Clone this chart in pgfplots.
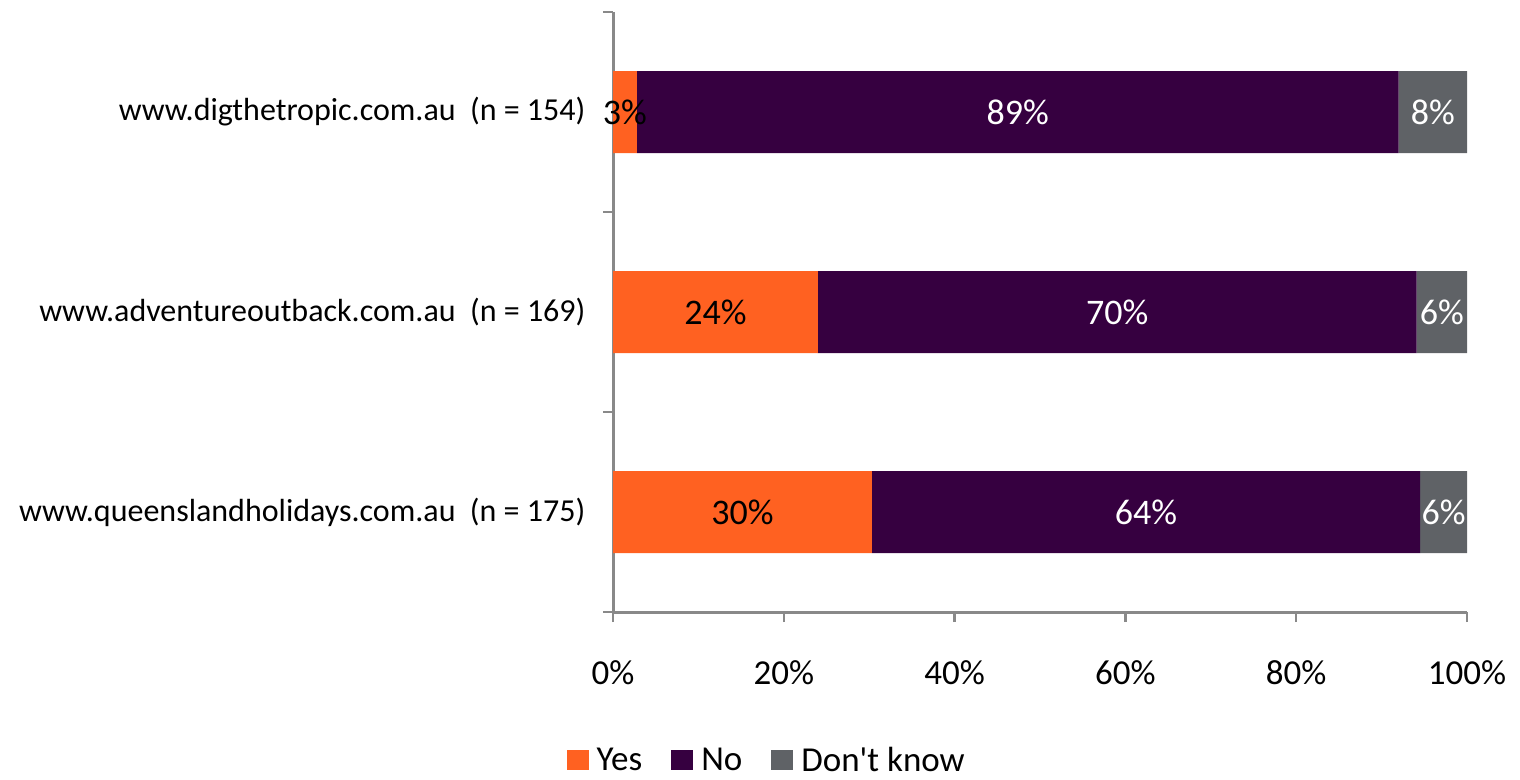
\documentclass[border=0pt]{standalone}
\usepackage{fontspec}
\setmainfont{Carlito}
\newfontfamily\carlitoplain{Carlito}
\usepackage{pgfplots}
\usepackage{pgfplotstable}
\pgfplotsset{compat=1.18}
\definecolor{cyes}{HTML}{FF6121}
\definecolor{cno}{HTML}{360040}
\definecolor{cdk}{HTML}{5F6266}
\definecolor{axgray}{HTML}{898989}
\pgfplotstableread{
y yes no dk ly ln ld
0 2.8 89.2 8.0 3 89 8
1 24.0 70.1 5.9 24 70 6
2 30.3 64.2 5.5 30 64 6
}\data
\pgfplotsset{midlabel/.style={
  point meta=explicit symbolic,
  nodes near coords={\pgfplotspointmeta\%},
  every node near coord/.append style={anchor=center, text=#1, font=\fontsize{36}{40}\selectfont}}}
\begin{document}
\begin{tikzpicture}
\path[use as bounding box] (0,0) rectangle (1520pt,779pt);
\begin{axis}[
  at={(613pt,167pt)}, anchor=south west,
  scale only axis, width=854pt, height=600pt,
  xbar stacked, bar width=82pt,
  xmin=0, xmax=100, ymin=-0.5, ymax=2.5, y dir=reverse,
  axis x line*=bottom, axis y line*=left,
  axis line style={axgray, line width=3pt, -},
  tick align=outside,
  major tick length=10pt,
  tick style={axgray, line width=2.5pt},
  /pgf/number format/assume math mode=true,
  xtick={0,20,...,100},
  xticklabel={\pgfmathprintnumber{\tick}\%},
  xticklabel style={font=\fontsize{35}{40}\selectfont, yshift=-35pt},
  ytick={-0.5,0.5,1.5,2.5}, yticklabels={},
  extra y ticks={0,1,2},
  extra y tick labels={www.digthetropic.com.au\ \ (n = 154),www.adventureoutback.com.au\ \ (n = 169),www.queenslandholidays.com.au\ \ (n = 175)},
  extra y tick style={major tick length=0pt, yticklabel style={font=\fontsize{32}{36}\selectfont, xshift=-24pt}},
  legend style={at={(0.18,-0.247)}, anchor=center, draw=none, fill=none, legend columns=3, font=\fontsize{35}{40}\carlitoplain, inner sep=0pt,
    /tikz/every even column/.append style={column sep=27pt},
    /tikz/every odd column/.append style={column sep=6pt}},
  legend cell align=left,
  legend image code/.code={\fill[#1] (0pt,-10pt) rectangle (22pt,10pt);},
]
\addplot[fill=cyes, draw=none, midlabel=black] table[x=yes, y=y, meta=ly] {\data};
\addplot[fill=cno, draw=none, midlabel=white] table[x=no, y=y, meta=ln] {\data};
\addplot[fill=cdk, draw=none, midlabel=white] table[x=dk, y=y, meta=ld] {\data};
\legend{Yes,No,Don't know}
\end{axis}
\end{tikzpicture}
\end{document}
